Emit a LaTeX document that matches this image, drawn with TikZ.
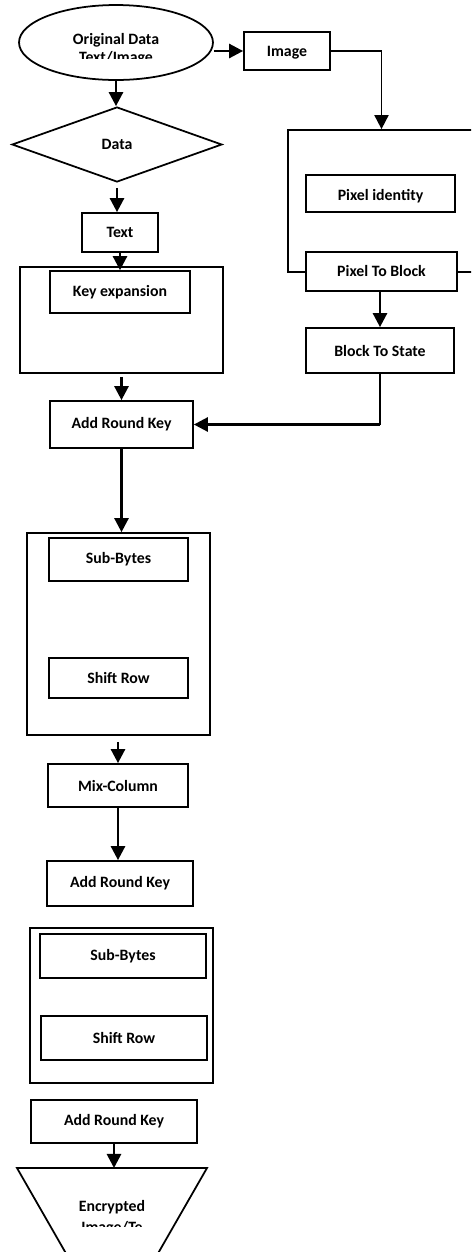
\documentclass[tikz,border=0pt]{standalone}
\usepackage{fontspec}
\setmainfont{Carlito}
\usetikzlibrary{shapes.geometric,arrows.meta,positioning}

\begin{document}
\begin{tikzpicture}[x=0.02cm, y=-0.02cm,
	every node/.style={font=\bfseries\fontsize{9}{10}\selectfont},
	box/.style={draw, fill=white, line width=1pt, inner sep=0pt},
	frame/.style={draw, line width=1pt, inner sep=0pt},
	arr/.style={-{Triangle[length=8pt, width=8pt]}, line width=1.5pt}]
	\useasboundingbox (0,0) rectangle (471,1252);
	\clip (0,0) rectangle (471,1252);

	% left column, top
	\node[frame, ellipse, minimum width=3.88cm, minimum height=1.5cm] (orig) at (116,42.5) {};
	\begin{scope}
		\clip (20,20) rectangle (212,58);
		\node[align=center, font=\bfseries\fontsize{9}{10.2}\selectfont] (origtxt) at (116,49) {Original Data\\Text/Image};
	\end{scope}
	\node[frame, diamond, aspect=2.8, minimum width=4.2cm, minimum height=1.5cm] (data) at (117,144.5) {Data};
	\node[box, minimum width=1.52cm, minimum height=0.78cm] (txt) at (120,232.5) {Text};
	\node[frame, minimum width=4.06cm, minimum height=2.12cm] (keyblk) at (121.5,320) {};
	\node[box, minimum width=2.8cm, minimum height=0.84cm] (keyexp) at (120,292) {Key expansion};

	% right column
	\node[box, minimum width=1.72cm, minimum height=0.76cm] (image) at (287,51) {};
	\begin{scope}
		\clip (244,32) rectangle (330,58);
		\node (imagetxt) at (287,53) {Image};
	\end{scope}
	\node[frame, minimum width=4.04cm, minimum height=2.84cm] (pixblk) at (389,201) {};
	\node[box, minimum width=2.98cm, minimum height=0.74cm] (pixid) at (380.5,193.5) {};
	\begin{scope}
		\clip (306,175) rectangle (455,202.5);
		\node (pixidtxt) at (380.5,196) {Pixel identity};
	\end{scope}
	\node[box, minimum width=3.02cm, minimum height=0.78cm] (pix2blk) at (381.5,271.5) {Pixel To Block};
	\node[box, minimum width=2.96cm, minimum height=0.9cm] (blk2st) at (380,350.5) {Block To State};

	% rounds
	\node[box, minimum width=2.86cm, minimum height=0.94cm] (ark1) at (121.5,424.5) {Add Round Key};
	\node[frame, minimum width=3.66cm, minimum height=4.04cm] (round1) at (118.5,634) {};
	\node[box, minimum width=2.78cm, minimum height=0.86cm] (sub1) at (118.5,559.5) {Sub-Bytes};
	\node[box, minimum width=2.78cm, minimum height=0.8cm] (shift1) at (118.5,678) {Shift Row};
	\node[box, minimum width=2.8cm, minimum height=0.86cm] (mix) at (118,785.5) {Mix-Column};
	\node[box, minimum width=2.92cm, minimum height=0.9cm] (ark2) at (120,883.5) {Add Round Key};
	\node[frame, minimum width=3.66cm, minimum height=3.1cm] (round2) at (121.5,1005.5) {};
	\node[box, minimum width=3.32cm, minimum height=0.88cm] (sub2) at (123,956) {Sub-Bytes};
	\node[box, minimum width=3.32cm, minimum height=0.88cm] (shift2) at (124,1038) {Shift Row};
	\node[box, minimum width=3.32cm, minimum height=0.86cm] (ark3) at (114,1121.5) {Add Round Key};

	% output
	\coordinate (encr) at (112,1168);
	\draw[line width=1pt] (17,1168) -- (207,1168) -- (137,1290) -- (87,1290) -- cycle;
	\begin{scope}
		\clip (17,1168) rectangle (207,1226);
		\node[align=center, font=\bfseries\fontsize{9}{11.9}\selectfont] (encrtxt) at (112,1218) {Encrypted\\Image/Te};
	\end{scope}

	% connectors
	\draw[arr] (orig.east |- image.west) -- (image.west);
	\draw[line width=1pt, -{Triangle[length=8pt, width=8pt]}] (image.east) -| (pix2blk |- pixblk.north);
	\draw[arr] (orig.south) -- (orig.south |- data.north);
	\draw[arr, shorten <=0.1cm] (data.south) -- (data.south |- txt.north);
	\draw[arr] (txt.south) -- (txt.south |- keyexp.north);
	\draw[arr, shorten <=0.06cm] (keyblk.south -| ark1.north) -- (ark1.north);
	\draw[arr] (pix2blk.south -| blk2st.north) -- (blk2st.north);
	\draw[line width=1pt] (blk2st.south) -- (blk2st.south |- ark1.east);
	\draw[arr] (blk2st.south |- ark1.east) -- (ark1.east);
	\draw[arr] (ark1.south) -- (ark1.south |- round1.north);
	\draw[arr, shorten <=0.12cm] (round1.south -| mix.north) -- (mix.north);
	\draw[arr] (mix.south) -- (mix.south |- ark2.north);
	\draw[arr] (ark3.south) -- (ark3.south |- encr);
\end{tikzpicture}
\end{document}
